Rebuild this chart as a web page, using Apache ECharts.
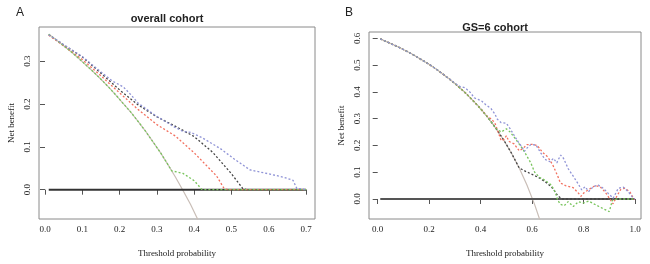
<!DOCTYPE html>
<html>
	<head>
		<meta charset="utf-8">
		<title>DCA</title>
		<script src="https://cdn.jsdelivr.net/npm/echarts@6/dist/echarts.min.js"></script>
	</head>
	<body style="margin:0">
		<div id="box" style="width: 650px;height: 264px;"></div>
		<script>
			// panel A: overall cohort
			var xTicksA = [0, 0.1, 0.2, 0.3, 0.4, 0.5, 0.6, 0.7]
			var yTicksA = [0, 0.1, 0.2, 0.3]
			var allA = [[0.01,0.363],[0.03,0.350],[0.05,0.336],[0.07,0.322],[0.09,0.307],[0.11,0.291],[0.13,0.275],[0.15,0.258],[0.17,0.240],[0.19,0.221],[0.21,0.201],[0.23,0.181],[0.25,0.159],[0.27,0.136],[0.29,0.111],[0.31,0.086],[0.33,0.058],[0.35,0.029],[0.37,-0.002],[0.39,-0.034],[0.41,-0.070],[0.43,-0.107]]
			var noneA = [[0.01,0],[0.7,0]]
			var blackA = [[0.01,0.362],[0.05,0.338],[0.10,0.310],[0.15,0.272],[0.20,0.233],[0.25,0.198],[0.30,0.170],[0.35,0.148],[0.40,0.124],[0.45,0.087],[0.50,0.037],[0.53,0.003],[0.54,0],[0.70,0]]
			var redA = [[0.01,0.361],[0.05,0.336],[0.10,0.304],[0.15,0.266],[0.20,0.226],[0.25,0.187],[0.30,0.152],[0.35,0.125],[0.40,0.086],[0.44,0.050],[0.46,0.032],[0.48,0.003],[0.49,0],[0.70,0]]
			var blueA = [[0.01,0.362],[0.05,0.339],[0.10,0.311],[0.15,0.275],[0.18,0.254],[0.21,0.240],[0.23,0.222],[0.25,0.202],[0.30,0.171],[0.35,0.145],[0.37,0.136],[0.39,0.134],[0.42,0.122],[0.47,0.096],[0.51,0.070],[0.55,0.046],[0.60,0.037],[0.64,0.029],[0.665,0.022],[0.675,0.003],[0.68,0],[0.70,0]]
			var greenA = [[0.01,0.363],[0.03,0.350],[0.05,0.336],[0.07,0.322],[0.09,0.307],[0.11,0.291],[0.13,0.275],[0.15,0.258],[0.17,0.240],[0.19,0.221],[0.21,0.201],[0.23,0.181],[0.25,0.159],[0.27,0.136],[0.29,0.111],[0.31,0.086],[0.33,0.058],[0.34,0.044],[0.37,0.038],[0.40,0.021],[0.42,0.001],[0.43,0],[0.70,0]]

			// panel B: GS=6 cohort
			var xTicksB = [0, 0.2, 0.4, 0.6, 0.8, 1.0]
			var yTicksB = [0, 0.1, 0.2, 0.3, 0.4, 0.5, 0.6]
			var allB = [[0.01,0.598],[0.04,0.585],[0.07,0.572],[0.10,0.558],[0.13,0.543],[0.16,0.526],[0.19,0.509],[0.22,0.490],[0.25,0.469],[0.28,0.447],[0.31,0.423],[0.34,0.397],[0.37,0.368],[0.40,0.337],[0.43,0.302],[0.46,0.263],[0.49,0.220],[0.52,0.171],[0.55,0.116],[0.58,0.052],[0.61,-0.021],[0.64,-0.106]]
			var noneB = [[0.01,0],[1.0,0]]
			var blackB = [[0.01,0.598],[0.04,0.585],[0.07,0.572],[0.10,0.558],[0.13,0.543],[0.16,0.526],[0.19,0.509],[0.22,0.490],[0.25,0.469],[0.28,0.447],[0.31,0.423],[0.34,0.397],[0.37,0.368],[0.40,0.337],[0.43,0.302],[0.46,0.263],[0.49,0.220],[0.52,0.171],[0.55,0.116],[0.575,0.103],[0.60,0.092],[0.63,0.078],[0.66,0.058],[0.68,0.040],[0.70,0.012],[0.715,0],[1.0,0]]
			var redB = [[0.01,0.598],[0.04,0.585],[0.07,0.572],[0.10,0.558],[0.13,0.543],[0.16,0.526],[0.19,0.509],[0.22,0.490],[0.25,0.469],[0.28,0.447],[0.31,0.423],[0.34,0.397],[0.37,0.368],[0.40,0.337],[0.43,0.304],[0.44,0.300],[0.455,0.285],[0.47,0.245],[0.48,0.218],[0.49,0.222],[0.50,0.236],[0.51,0.215],[0.53,0.206],[0.55,0.180],[0.565,0.189],[0.58,0.203],[0.60,0.204],[0.62,0.200],[0.64,0.175],[0.66,0.158],[0.68,0.128],[0.70,0.085],[0.71,0.060],[0.73,0.050],[0.76,0.042],[0.78,0.022],[0.79,0.010],[0.80,0.022],[0.82,0.035],[0.845,0.050],[0.865,0.045],[0.885,0.025],[0.90,0.003],[0.915,-0.018],[0.93,0.012],[0.945,0.036],[0.96,0.040],[0.98,0.027],[0.995,0],[1.0,0]]
			var greenB = [[0.01,0.598],[0.04,0.585],[0.07,0.572],[0.10,0.558],[0.13,0.543],[0.16,0.526],[0.19,0.509],[0.22,0.490],[0.25,0.469],[0.28,0.447],[0.31,0.423],[0.34,0.397],[0.37,0.368],[0.40,0.337],[0.43,0.302],[0.46,0.263],[0.48,0.250],[0.50,0.262],[0.515,0.250],[0.535,0.225],[0.55,0.205],[0.565,0.185],[0.58,0.160],[0.595,0.135],[0.61,0.100],[0.63,0.080],[0.65,0.070],[0.675,0.052],[0.69,0.025],[0.70,-0.005],[0.71,-0.020],[0.725,-0.025],[0.74,-0.010],[0.76,-0.028],[0.78,-0.010],[0.80,-0.015],[0.82,-0.008],[0.84,-0.018],[0.86,-0.028],[0.88,-0.038],[0.90,-0.047],[0.912,-0.005],[0.93,0],[1.0,0]]
			var blueB = [[0.01,0.598],[0.04,0.585],[0.07,0.572],[0.10,0.558],[0.13,0.543],[0.16,0.526],[0.19,0.509],[0.22,0.490],[0.25,0.469],[0.28,0.447],[0.30,0.432],[0.32,0.420],[0.34,0.415],[0.36,0.398],[0.375,0.378],[0.39,0.372],[0.405,0.365],[0.42,0.352],[0.44,0.338],[0.455,0.318],[0.465,0.298],[0.48,0.285],[0.50,0.283],[0.515,0.262],[0.53,0.238],[0.545,0.215],[0.56,0.195],[0.57,0.178],[0.58,0.190],[0.595,0.203],[0.615,0.202],[0.635,0.170],[0.65,0.148],[0.67,0.139],[0.683,0.152],[0.696,0.135],[0.711,0.164],[0.722,0.152],[0.741,0.112],[0.76,0.085],[0.78,0.055],[0.793,0.034],[0.806,0.046],[0.82,0.028],[0.838,0.046],[0.857,0.052],[0.877,0.040],[0.896,0.021],[0.915,0.003],[0.935,0.040],[0.955,0.044],[0.974,0.027],[0.993,0.003],[1.0,0]]

			var serif = 'Liberation Serif'
			var txt = '#222'

			function xAx(idx, min, max, ticks) {
				return {
					type: 'value', gridIndex: idx, min: min, max: max,
					axisLine: { show: false },
					splitLine: { show: false },
					axisTick: { show: true, length: 5, customValues: ticks, lineStyle: { color: '#555' } },
					axisLabel: { customValues: ticks, margin: 6, fontFamily: serif, fontSize: 9, color: txt,
						formatter: function (v) { return v.toFixed(1) } },
					name: 'Threshold probability', nameLocation: 'middle', nameGap: 30,
					nameTextStyle: { fontFamily: serif, fontSize: 9, color: txt }
				}
			}
			function yAx(idx, min, max, ticks) {
				return {
					type: 'value', gridIndex: idx, min: min, max: max,
					axisLine: { show: false },
					splitLine: { show: false },
					axisTick: { show: true, length: 5, customValues: ticks, lineStyle: { color: '#555' } },
					axisLabel: { customValues: ticks, rotate: 90, margin: 7, fontFamily: serif, fontSize: 9, color: txt,
						formatter: function (v) { return v.toFixed(1) } },
					name: 'Net benefit', nameLocation: 'middle', nameGap: 23, nameRotate: 90,
					nameTextStyle: { fontFamily: serif, fontSize: 9, color: txt }
				}
			}
			function ln(name, data, idx, color, width, dashed) {
				return {
					name: name, type: 'line', data: data, xAxisIndex: idx, yAxisIndex: idx,
					showSymbol: false, silent: true, clip: true,
					lineStyle: { color: color, width: width, type: dashed ? [2, 2] : 'solid' }
				}
			}

			var mCharts = echarts.init(document.querySelector('#box'), null, { renderer: 'canvas' })
			var option = {
				animation: false,
				backgroundColor: '#fff',
				title: [
					{ text: 'A', left: 11, top: 2, textStyle: { fontFamily: 'Liberation Sans', fontSize: 12, fontWeight: 'normal', color: '#222' } },
					{ text: 'overall cohort', left: 162, top: 8, textAlign: 'center', textStyle: { fontFamily: 'Liberation Sans', fontSize: 11, fontWeight: 'bold', color: '#222' } },
					{ text: 'B', left: 340, top: 2, textStyle: { fontFamily: 'Liberation Sans', fontSize: 12, fontWeight: 'normal', color: '#222' } },
					{ text: 'GS=6 cohort', left: 490, top: 17, textAlign: 'center', textStyle: { fontFamily: 'Liberation Sans', fontSize: 11, fontWeight: 'bold', color: '#222' } }
				],
				grid: [
					{ left: 39, top: 27, width: 276, height: 192, show: true, borderColor: '#8a8a8a', borderWidth: 1, backgroundColor: 'transparent' },
					{ left: 369, top: 32, width: 272, height: 187, show: true, borderColor: '#8a8a8a', borderWidth: 1, backgroundColor: 'transparent' }
				],
				xAxis: [
					xAx(0, -0.0161, 0.7239, xTicksA),
					xAx(1, -0.0338, 1.0233, xTicksB)
				],
				yAxis: [
					yAx(0, -0.0685, 0.380, yTicksA),
					yAx(1, -0.0747, 0.6236, yTicksB)
				],
				series: [
					ln('all', allA, 0, '#c9beb7', 1.2, false),
					ln('none', noneA, 0, '#333', 2, false),
					ln('m1', blackA, 0, '#444', 1.3, true),
					ln('m2', redA, 0, '#f2705f', 1.3, true),
					ln('m3', greenA, 0, '#78c45c', 1.3, true),
					ln('m4', blueA, 0, '#8f93d6', 1.3, true),
					ln('all', allB, 1, '#c9beb7', 1.2, false),
					ln('none', noneB, 1, '#555', 2, false),
					ln('m1', blackB, 1, '#444', 1.3, true),
					ln('m2', redB, 1, '#f2705f', 1.3, true),
					ln('m3', greenB, 1, '#78c45c', 1.3, true),
					ln('m4', blueB, 1, '#8f93d6', 1.3, true)
				]
			}
			mCharts.setOption(option)
		</script>
	</body>
</html>
